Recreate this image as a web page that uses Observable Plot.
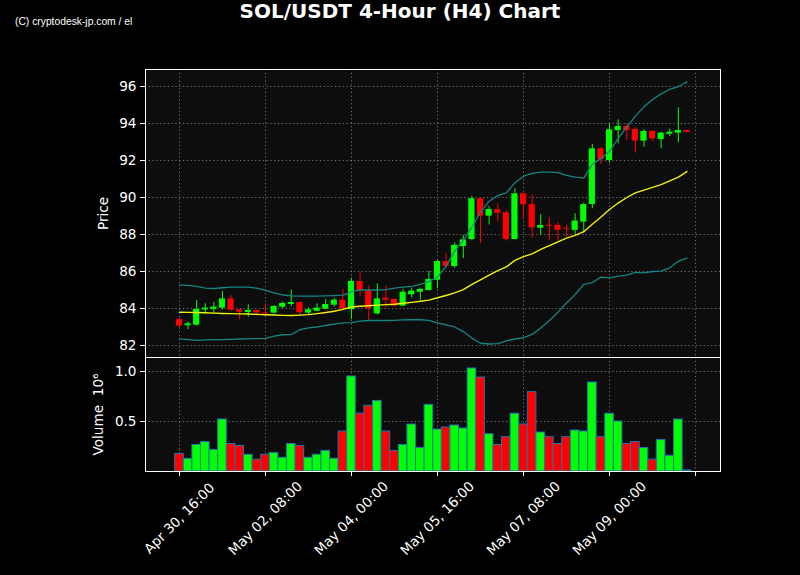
<!DOCTYPE html>
<html><head><meta charset="utf-8">
<script src="https://cdn.jsdelivr.net/npm/d3@7"></script>
<script src="https://cdn.jsdelivr.net/npm/@observablehq/plot@0.6"></script>
<style>
html,body{margin:0;padding:0;background:#000;}
#chart{position:relative;width:800px;height:575px;background:#000;overflow:hidden;font-family:"DejaVu Sans",sans-serif;}
#title{position:absolute;left:0;width:800px;top:0;text-align:center;color:#fff;font-weight:bold;font-size:20px;line-height:23px;}
#wm{position:absolute;left:15px;top:16px;color:#fff;font-size:10.3px;font-family:"Liberation Sans Narrow","Liberation Sans",sans-serif;}
#price{position:absolute;left:0;top:0;}
#vol{position:absolute;left:0;top:357px;}
</style></head>
<body><div id="chart"><div id="price"></div><div id="vol"></div><div id="title">SOL/USDT 4-Hour (H4) Chart</div><div id="wm">(C) cryptodesk-jp.com / el</div></div>
<script>
// candle index 0 = Apr 30 16:00 (H4 bars)
const open  = [83.40,83.07,83.10,83.92,83.95,84.02,84.52,83.93,83.78,83.89,83.76,83.75,84.07,84.22,84.32,83.75,83.85,83.96,84.18,84.45,83.93,85.46,84.92,83.71,84.56,84.49,84.13,84.74,84.88,84.97,85.53,86.54,86.27,87.35,87.73,89.93,88.99,89.34,89.17,87.73,90.20,89.62,88.34,88.50,88.49,88.34,88.22,88.67,89.62,92.63,92.00,93.62,93.84,93.68,93.05,93.57,93.14,93.42,93.48,93.62];
const high  = [83.47,83.26,84.43,84.25,84.34,84.92,84.68,83.95,84.20,83.90,84.25,84.15,84.35,85.00,84.35,84.04,84.25,84.50,84.55,85.03,85.64,85.93,85.20,85.33,85.20,84.52,85.03,85.10,85.10,86.00,86.60,86.99,87.55,87.95,90.07,89.95,89.51,89.66,89.30,90.47,90.25,90.15,89.08,88.90,88.63,88.49,89.12,89.70,92.86,92.70,93.95,94.20,93.97,93.76,93.66,93.62,93.53,93.70,94.85,93.65];
const low   = [82.95,82.86,83.05,83.71,83.71,83.93,83.86,83.39,83.53,83.60,83.55,83.70,84.00,84.10,83.60,83.65,83.82,83.93,84.08,83.95,83.41,84.62,83.35,83.65,84.02,84.08,84.10,84.56,84.45,84.95,85.06,86.20,86.18,86.69,87.65,87.50,88.52,88.70,87.64,87.70,88.80,87.82,87.95,87.68,87.64,87.85,88.00,88.07,89.39,91.78,91.86,92.90,93.08,92.40,92.72,93.05,92.63,93.30,92.96,93.50];
const close = [83.05,83.17,83.95,84.02,84.07,84.52,83.91,83.80,83.89,83.76,83.70,84.11,84.27,84.32,83.77,83.93,84.02,84.22,84.45,83.98,85.46,84.92,83.98,84.52,84.45,84.13,84.88,84.94,85.03,85.57,86.54,86.27,87.41,87.71,89.93,88.99,89.35,89.15,87.73,90.20,89.61,88.36,88.49,88.45,88.22,88.29,88.73,89.62,92.63,92.04,93.66,93.84,93.62,93.05,93.57,93.17,93.48,93.53,93.62,93.52];
// volume in units of 10^6
const volume = [0.176,0.127,0.265,0.294,0.216,0.52,0.275,0.255,0.167,0.118,0.167,0.186,0.137,0.275,0.255,0.137,0.167,0.206,0.127,0.40,0.95,0.578,0.657,0.706,0.40,0.206,0.265,0.47,0.235,0.667,0.42,0.44,0.46,0.43,1.03,0.94,0.373,0.265,0.343,0.578,0.47,0.794,0.39,0.343,0.275,0.343,0.41,0.40,0.89,0.343,0.578,0.50,0.275,0.294,0.235,0.118,0.314,0.157,0.52,0.01];
// overlays
const ma    = [83.80,83.79,83.78,83.77,83.75,83.73,83.72,83.71,83.70,83.68,83.66,83.65,83.63,83.62,83.64,83.67,83.72,83.78,83.85,83.95,84.08,84.12,84.15,84.18,84.21,84.23,84.28,84.33,84.39,84.45,84.58,84.70,84.84,85.02,85.30,85.55,85.80,86.05,86.25,86.60,86.80,86.95,87.20,87.40,87.60,87.80,87.95,88.15,88.55,88.95,89.35,89.70,90.00,90.25,90.40,90.55,90.70,90.90,91.10,91.40];
const upper = [85.28,85.25,85.20,85.10,85.08,85.12,85.15,85.15,85.15,85.10,84.98,84.85,84.73,84.68,84.67,84.67,84.67,84.68,84.70,84.72,84.90,85.00,85.00,85.00,85.02,85.10,85.15,85.20,85.30,85.45,85.70,86.30,87.10,87.70,88.40,89.20,89.80,90.10,90.25,90.80,91.15,91.30,91.37,91.37,91.35,91.20,91.10,91.05,91.80,92.10,92.50,93.20,93.80,94.40,94.90,95.30,95.60,95.85,96.00,96.25];
const lower = [82.36,82.32,82.28,82.30,82.32,82.32,82.33,82.35,82.36,82.37,82.38,82.50,82.58,82.60,82.85,82.95,83.00,83.08,83.15,83.22,83.24,83.32,83.35,83.35,83.35,83.36,83.38,83.39,83.39,83.36,83.22,83.12,83.00,82.75,82.40,82.12,82.08,82.10,82.25,82.35,82.42,82.60,82.95,83.35,83.80,84.30,84.75,85.30,85.40,85.70,85.65,85.75,85.80,85.95,85.92,86.00,86.02,86.20,86.55,86.72];
const xTicks = [0,10,20,30,40,50,60];
const xLabels = ["Apr 30, 16:00","May 02, 08:00","May 04, 00:00","May 05, 16:00","May 07, 08:00","May 09, 00:00"];
const priceTicks = [82,84,86,88,90,92,94,96];
const volTicks = [0.5,1.0];

const GREEN = "#00ff00", RED = "#ff0000";
const candles = close.map((c,i)=>({i, o:open[i], h:high[i], l:low[i], c, v:volume[i], ma:ma[i], up:upper[i], lo:lower[i], col: c>=open[i]?GREEN:RED}));
const xDomain = [-3.95, 62.9];
const grid = {stroke:"#b0b0b0", strokeOpacity:0.7, strokeDasharray:"1.2,2.6", strokeWidth:0.9};
const baseStyle = {background:"transparent", color:"#fff", fontFamily:"DejaVu Sans, sans-serif", fontSize:"13.6px", overflow:"visible"};

const price = Plot.plot({
  width:800, height:357, marginLeft:145, marginRight:80, marginTop:69, marginBottom:0,
  style: baseStyle,
  x:{domain:xDomain, axis:null},
  y:{domain:[81.35,96.92]},
  color:{type:"identity"},
  marks:[
    Plot.frame({fill:"#0d0d0d"}),
    Plot.gridX(xTicks, grid),
    Plot.gridY(priceTicks, grid),
    Plot.ruleX(candles,{x:"i", y1:"l", y2:"h", stroke:"col", strokeWidth:1}),
    Plot.rect(candles,{x1:d=>d.i-0.36, x2:d=>d.i+0.36, y1:"o", y2:"c", fill:"col"}),
    Plot.line(candles,{x:"i", y:"up", stroke:"#138585", strokeWidth:1.3}),
    Plot.line(candles,{x:"i", y:"lo", stroke:"#138585", strokeWidth:1.3}),
    Plot.line(candles,{x:"i", y:"ma", stroke:"#f2f20a", strokeWidth:1.4}),
    Plot.axisY(priceTicks,{tickSize:5, tickPadding:4, label:"Price", labelAnchor:"center", labelArrow:"none", labelOffset:47}),
    Plot.frame({stroke:"#fff", strokeWidth:1})
  ]
});
document.getElementById("price").appendChild(price);

const vol = Plot.plot({
  width:800, height:218, marginLeft:145, marginRight:80, marginTop:0, marginBottom:104,
  style: baseStyle,
  x:{domain:xDomain, axis:null},
  y:{domain:[0,1.14]},
  color:{type:"identity"},
  marks:[
    Plot.frame({fill:"#0d0d0d"}),
    Plot.gridX(xTicks, grid),
    Plot.gridY(volTicks, grid),
    Plot.rect(candles,{x1:d=>d.i-0.5, x2:d=>d.i+0.5, y1:0, y2:"v", fill:"col", stroke:"#2472b0", strokeWidth:1}),
    Plot.axisY(volTicks,{tickSize:5, tickPadding:4, tickFormat:".1f", label:"Volume  10⁶", labelAnchor:"center", labelArrow:"none", labelOffset:52}),
    Plot.axisX(xTicks,{tickSize:5, tickFormat:()=>"", label:null}),
    Plot.text(xLabels.map((t,k)=>({t, x:xTicks[k]})),{x:"x", text:"t", frameAnchor:"bottom", dy:47, rotate:-45, textAnchor:"middle", lineAnchor:"middle", fill:"#fff", fontSize:13.6}),
    Plot.frame({stroke:"#fff", strokeWidth:1})
  ]
});
document.getElementById("vol").appendChild(vol);
</script>
</body></html>
